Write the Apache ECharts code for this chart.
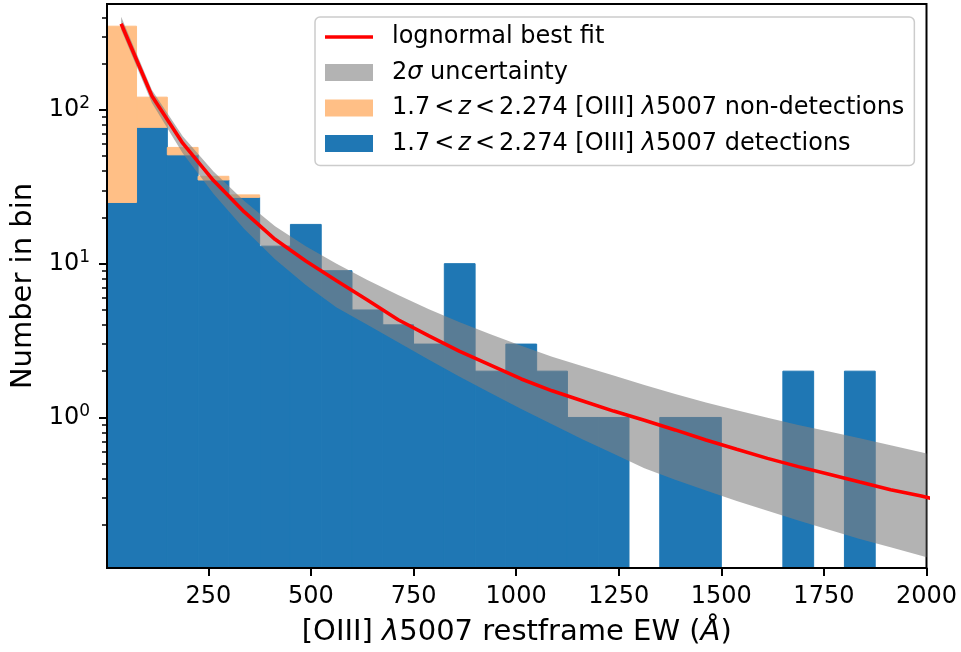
<!DOCTYPE html>
<html>
<head>
<meta charset="utf-8">
<script src="https://cdn.jsdelivr.net/npm/echarts@6/dist/echarts.min.js"></script>
<style>
  html, body { margin: 0; padding: 0; background: #fff; }
  #chart { width: 961px; height: 652px; }
</style>
</head>
<body>
<div id="chart"></div>
<script>
// Histogram bins: left edges (Å) and width
const binLeft = [0, 75, 150, 225, 300, 375, 450, 525, 600, 675, 750, 825, 900, 975,
                 1050, 1125, 1200, 1275, 1350, 1425, 1500, 1575, 1650, 1725, 1800, 1875, 1950];
const BIN_WIDTH = 75;

// Counts per bin
const detections    = [25, 77, 51, 35, 27, 13, 18, 9, 5, 4, 3, 10, 2, 3, 2, 1, 1, 0, 1, 1, 0, 0, 2, 0, 2, 0, 0];
const nonDetections = [325, 44, 6, 2, 1, 0, 0, 0, 0, 0, 0, 0, 0, 0, 0, 0, 0, 0, 0, 0, 0, 0, 0, 0, 0, 0, 0];

// Lognormal fit sampled at bin centres, with 2-sigma envelope
const fitX     = [37.5, 112.5, 187.5, 262.5, 337.5, 412.5, 487.5, 562.5, 637.5, 712.5, 787.5, 862.5, 937.5, 1012.5,
                  1087.5, 1162.5, 1237.5, 1312.5, 1387.5, 1462.5, 1537.5, 1612.5, 1687.5, 1762.5, 1837.5, 1912.5, 1987.5, 2062.5];
const fitBest  = [363, 123, 60.7, 34.7, 21.7, 14.4, 10.4, 7.74, 5.8, 4.32, 3.39, 2.69, 2.19, 1.78,
                  1.49, 1.28, 1.10, 0.96, 0.83, 0.714, 0.621, 0.542, 0.479, 0.427, 0.38, 0.339, 0.309, 0.275];
const fitUpper = [403, 134.6, 67.4, 39.7, 25.6, 17.5, 13.0, 10.0, 7.83, 6.25, 5.06, 4.16, 3.47, 2.93,
                  2.48, 2.15, 1.873, 1.627, 1.422, 1.252, 1.112, 0.994, 0.894, 0.809, 0.732, 0.659, 0.593, 0.537];
const fitLower = [332, 110.8, 52.2, 28.5, 16.8, 10.67, 7.26, 5.18, 4.0, 3.08, 2.37, 1.84, 1.44, 1.135,
                  0.902, 0.719, 0.581, 0.468, 0.394, 0.335, 0.286, 0.247, 0.214, 0.186, 0.162, 0.143, 0.126, 0.1117];

// Axis ranges and ticks
const xTicks = [250, 500, 750, 1000, 1250, 1500, 1750, 2000];
const X_MIN = 3, X_MAX = 2000;
const Y_MIN = 0.105, Y_MAX = 488;
const yDecades = [1, 10, 100];

const S = '\u2006'; // narrow space around the relation signs
const NAME_FIT = 'lognormal best fit';
const NAME_BAND = '2σ uncertainty';
const NAME_NONDET = '1.7' + S + '<' + S + 'z' + S + '<' + S + '2.274 [OIII] λ5007 non-detections';
const NAME_DET = '1.7' + S + '<' + S + 'z' + S + '<' + S + '2.274 [OIII] λ5007 detections';

const FONT = 'DejaVu Sans';
const lg = Math.log10;
const LOG_MIN = lg(Y_MIN), LOG_MAX = lg(Y_MAX);

// The count axis is logarithmic: values are placed on it as log10(count)
const detBars = [], nondetBars = [];
binLeft.forEach((x0, i) => {
  const d = detections[i], n = nonDetections[i];
  if (d > 0) detBars.push([x0, x0 + BIN_WIDTH, LOG_MIN, lg(d)]);
  if (n > 0) nondetBars.push([x0, x0 + BIN_WIDTH, d > 0 ? lg(d) : LOG_MIN, lg(d + n)]);
});

const minorTicks = [];
[0.1, 1, 10, 100].forEach(dec => {
  for (let m = 2; m <= 9; m++) {
    const v = m * dec;
    if (v > Y_MIN && v < Y_MAX) minorTicks.push(lg(v));
  }
});

function plotRect(params) {
  const cs = params.coordSys;
  return { x: cs.x, y: cs.y, width: cs.width, height: cs.height };
}

function renderBin(params, api) {
  const a = api.coord([api.value(0), api.value(3)]);
  const b = api.coord([api.value(1), api.value(2)]);
  const shape = echarts.graphic.clipRectByRect(
    { x: a[0], y: a[1], width: b[0] - a[0], height: b[1] - a[1] }, plotRect(params));
  if (!shape) return null;
  const c = api.visual('color');
  return { type: 'rect', shape: shape, style: { fill: c, stroke: c, lineWidth: 1 } };
}

// Sutherland–Hodgman clip of a polygon against the plot rectangle
function clipPolygon(pts, r) {
  const edges = [
    [p => p[0] >= r.x, (p, q) => { const t = (r.x - p[0]) / (q[0] - p[0]); return [r.x, p[1] + t * (q[1] - p[1])]; }],
    [p => p[0] <= r.x + r.width, (p, q) => { const X = r.x + r.width, t = (X - p[0]) / (q[0] - p[0]); return [X, p[1] + t * (q[1] - p[1])]; }],
    [p => p[1] >= r.y, (p, q) => { const t = (r.y - p[1]) / (q[1] - p[1]); return [p[0] + t * (q[0] - p[0]), r.y]; }],
    [p => p[1] <= r.y + r.height, (p, q) => { const Y = r.y + r.height, t = (Y - p[1]) / (q[1] - p[1]); return [p[0] + t * (q[0] - p[0]), Y]; }]
  ];
  let out = pts;
  edges.forEach(([inside, cross]) => {
    const src = out; out = [];
    for (let i = 0; i < src.length; i++) {
      const cur = src[i], prev = src[(i + src.length - 1) % src.length];
      if (inside(cur)) {
        if (!inside(prev)) out.push(cross(prev, cur));
        out.push(cur);
      } else if (inside(prev)) {
        out.push(cross(prev, cur));
      }
    }
  });
  return out;
}

function renderBand(params, api) {
  const pts = [];
  fitX.forEach((x, i) => pts.push(api.coord([x, lg(fitUpper[i])])));
  for (let i = fitX.length - 1; i >= 0; i--) pts.push(api.coord([fitX[i], lg(fitLower[i])]));
  return {
    type: 'polygon',
    shape: { points: clipPolygon(pts, plotRect(params)) },
    style: { fill: 'rgba(128,128,128,0.6)' }
  };
}

const chart = echarts.init(document.getElementById('chart'), null, { renderer: 'canvas' });
chart.setOption({
  animation: false,
  backgroundColor: '#fff',
  grid: {
    left: 107, right: 34.5, top: 4, bottom: 83.7,
    show: true, borderColor: '#000', borderWidth: 2, backgroundColor: 'transparent'
  },
  legend: {
    orient: 'vertical', left: 315, top: 17,
    itemWidth: 48, itemHeight: 17, itemGap: 11.5,
    padding: [8, 10, 10, 10],
    backgroundColor: 'rgba(255,255,255,0.8)', borderColor: '#cccccc', borderWidth: 1.5, borderRadius: 5,
    textStyle: {
      fontFamily: FONT, fontSize: 24, color: '#000', lineHeight: 24, padding: [0, 0, 0, 14],
      rich: { i: { fontFamily: FONT, fontSize: 24, fontStyle: 'italic', color: '#000', lineHeight: 24 } }
    },
    formatter: name => name.replace(/([zλσ])/g, '{i|$1}'),
    data: [
      { name: NAME_FIT, icon: 'path://M0,0 L480,0 L480,36 L0,36 Z' },
      { name: NAME_BAND, icon: 'rect' },
      { name: NAME_NONDET, icon: 'rect' },
      { name: NAME_DET, icon: 'rect' }
    ]
  },
  xAxis: {
    type: 'value', min: X_MIN, max: X_MAX, z: 10,
    name: '[OIII] {i|λ}5007 restframe EW ({i|Å})',
    nameLocation: 'middle', nameGap: 50,
    nameTextStyle: {
      fontFamily: FONT, fontSize: 29, color: '#000',
      rich: { i: { fontFamily: FONT, fontSize: 29, fontStyle: 'italic', color: '#000' } }
    },
    splitLine: { show: false },
    axisLine: { onZero: false, lineStyle: { color: '#000', width: 2 } },
    axisTick: { customValues: xTicks, length: 8, lineStyle: { color: '#000', width: 2 } },
    axisLabel: {
      customValues: xTicks, margin: 17, fontFamily: FONT, fontSize: 24, color: '#000',
      formatter: v => String(v)
    }
  },
  yAxis: [
    {
      type: 'value', min: LOG_MIN, max: LOG_MAX, z: 10,
      name: 'Number in bin', nameLocation: 'middle', nameGap: 69,
      nameTextStyle: { fontFamily: FONT, fontSize: 29, color: '#000' },
      splitLine: { show: false },
      axisLine: { show: true, onZero: false, lineStyle: { color: '#000', width: 2 } },
      axisTick: { customValues: yDecades.map(lg), length: 8, lineStyle: { color: '#000', width: 2 } },
      axisLabel: {
        customValues: yDecades.map(lg), margin: 17, color: '#000',
        formatter: v => '{b|10}{s|' + Math.round(v) + '}',
        rich: {
          b: { fontFamily: FONT, fontSize: 24, color: '#000' },
          s: { fontFamily: FONT, fontSize: 17, color: '#000', padding: [0, 0, 12, 0] }
        }
      }
    },
    {
      type: 'value', min: LOG_MIN, max: LOG_MAX, position: 'left', z: 10,
      splitLine: { show: false },
      axisLine: { show: false },
      axisLabel: { show: false },
      axisTick: { customValues: minorTicks, length: 5, lineStyle: { color: '#000', width: 1.5 } }
    }
  ],
  series: [
    {
      name: NAME_DET, type: 'custom', z: 2,
      itemStyle: { color: '#1f77b4' },
      renderItem: renderBin,
      encode: { x: [0, 1], y: [2, 3] },
      data: detBars
    },
    {
      name: NAME_NONDET, type: 'custom', z: 2,
      itemStyle: { color: '#ffbf86' },
      renderItem: renderBin,
      encode: { x: [0, 1], y: [2, 3] },
      data: nondetBars
    },
    {
      name: NAME_BAND, type: 'custom', z: 3, silent: true,
      itemStyle: { color: '#b3b3b3' },
      renderItem: renderBand,
      encode: { x: 0, y: 1 },
      data: [[fitX[0], lg(fitBest[0])]]
    },
    {
      name: NAME_FIT, type: 'line', z: 4,
      symbol: 'none',
      itemStyle: { color: '#ff0000' },
      lineStyle: { color: '#ff0000', width: 3.6 },
      data: fitX.map((x, i) => [x, lg(fitBest[i])])
    }
  ]
});
</script>
</body>
</html>
